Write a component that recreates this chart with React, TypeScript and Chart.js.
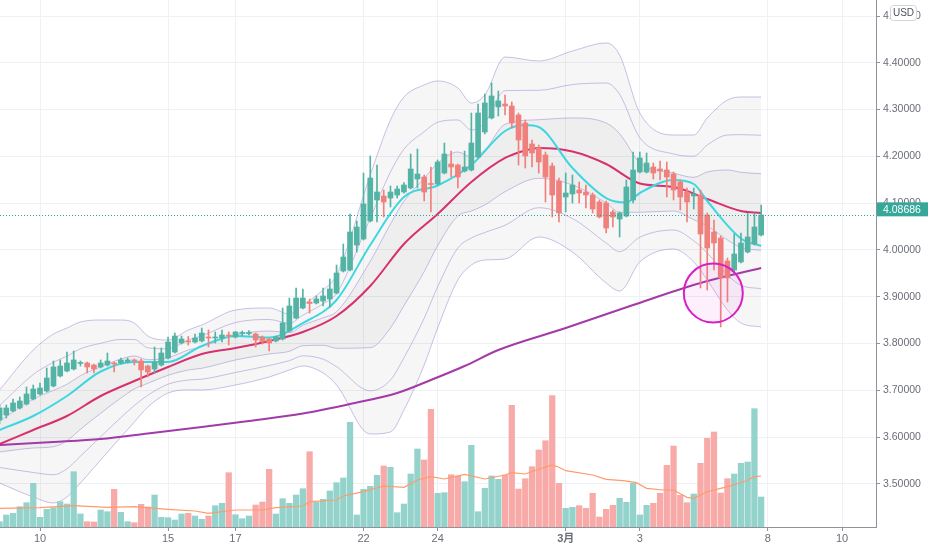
import React, { useEffect, useRef } from "react";
import { Chart, registerables } from "chart.js";

Chart.register(...registerables);

const FONT = "'Liberation Sans', 'Noto Sans CJK JP', sans-serif";

// ---- axes ----
const tickIdx = [6, 25, 35, 54, 65, 84, 95, 114, 125];
const tickLabels = ["10", "15", "17", "22", "24", "3月", "3", "8", "10"];
const priceTicks = [3.5, 3.6, 3.7, 3.8, 3.9, 4.0, 4.1, 4.2, 4.3, 4.4, 4.5];
const priceMin = 3.4081;
const priceMax = 4.5342;
const idxMin = 0.065;
const idxMax = 130.04;
const lastPrice = 4.08686;
const circleIdx = 105.9;
const circlePrice = 3.908;

// ---- candles ----
const openP = [
  3.6367, 3.6474, 3.656, 3.6624, 3.6709, 3.6816, 3.6923, 3.6987, 3.7094, 3.7308,
  3.7415, 3.7457, 3.7575, 3.7585, 3.7543, 3.75, 3.7543, 3.7585, 3.7585, 3.7607,
  3.765, 3.7628, 3.7521, 3.7457, 3.7543, 3.7692, 3.782, 3.8013, 3.8056, 3.8034,
  3.8056, 3.8141, 3.812, 3.812, 3.8184, 3.8141, 3.8216, 3.8216, 3.8205, 3.813,
  3.8098, 3.8056, 3.8098, 3.8269, 3.8547, 3.8761, 3.8889, 3.8867, 3.891, 3.8953,
  3.9081, 3.9551, 3.9573, 4.0107, 4.0235, 4.062, 4.1068, 4.1154, 4.1111, 4.1175,
  4.1239, 4.1325, 4.1517, 4.156, 4.1421, 4.141, 4.1645, 4.1838, 4.1816, 4.1688,
  4.1709, 4.1987, 4.2521, 4.2821, 4.3056, 4.312, 4.3077, 4.2885, 4.2714, 4.2265,
  4.218, 4.203, 4.1795, 4.1474, 4.1133, 4.1197, 4.1282, 4.1239, 4.1175, 4.1026,
  4.1004, 4.0812, 4.0662, 4.0726, 4.1068, 4.1667, 4.1667, 4.1774, 4.1731, 4.1709,
  4.1624, 4.1453, 4.1239, 4.1154, 4.1175, 4.0748, 4.0385, 4.0256, 3.9765, 3.9573,
  3.9744, 3.9957, 4.0128, 4.0321,
];
const highP = [
  3.6688, 3.6688, 3.6816, 3.6859, 3.7073, 3.7115, 3.7158, 3.7479, 3.7628, 3.765,
  3.782, 3.7842, 3.7628, 3.7607, 3.7564, 3.765, 3.7799, 3.7607, 3.7692, 3.7692,
  3.7671, 3.7671, 3.7543, 3.7927, 3.7906, 3.8141, 3.8226, 3.8162, 3.8152, 3.8205,
  3.8333, 3.8291, 3.8248, 3.8291, 3.8248, 3.8258, 3.8269, 3.828, 3.8226, 3.8162,
  3.812, 3.8162, 3.8761, 3.8974, 3.9188, 3.9167, 3.8953, 3.9017, 3.9188, 3.938,
  3.9679, 4.0128, 4.0769, 4.062, 4.1645, 4.2009, 4.1816, 4.1282, 4.1368, 4.1368,
  4.1438, 4.2051, 4.2158, 4.1603, 4.1774, 4.1923, 4.2286, 4.2115, 4.1838, 4.2115,
  4.2927, 4.312, 4.3333, 4.3568, 4.3397, 4.3312, 4.3162, 4.2927, 4.2778, 4.235,
  4.2244, 4.2094, 4.1859, 4.1538, 4.1645, 4.1603, 4.1453, 4.1389, 4.1218, 4.1068,
  4.1047, 4.0855, 4.0812, 4.1496, 4.2094, 4.2094, 4.2073, 4.1859, 4.1902, 4.188,
  4.1667, 4.1496, 4.1325, 4.1325, 4.1282, 4.0791, 4.0641, 4.0299, 3.9829, 4.0342,
  4.0363, 4.0791, 4.0791, 4.0962,
];
const lowP = [
  3.6282, 3.641, 3.6538, 3.6602, 3.6688, 3.6795, 3.6902, 3.6966, 3.7073, 3.7286,
  3.7393, 3.7436, 3.7521, 3.7372, 3.7372, 3.7479, 3.7521, 3.7393, 3.7564, 3.7585,
  3.7543, 3.7073, 3.7286, 3.7372, 3.7521, 3.7671, 3.7799, 3.7991, 3.797, 3.8013,
  3.8034, 3.7927, 3.8013, 3.8034, 3.797, 3.812, 3.8162, 3.8184, 3.7927, 3.7991,
  3.7842, 3.8034, 3.8077, 3.8248, 3.8526, 3.8739, 3.8654, 3.8846, 3.8803, 3.8782,
  3.906, 3.953, 3.9551, 3.9957, 4.0214, 4.0598, 4.0598, 4.0705, 4.0919, 4.1111,
  4.1212, 4.1303, 4.1325, 4.1047, 4.0812, 4.1389, 4.1624, 4.156, 4.1325, 4.1667,
  4.1688, 4.1966, 4.2479, 4.2799, 4.2863, 4.2885, 4.2607, 4.1816, 4.1752, 4.1774,
  4.1645, 4.1026, 4.0705, 4.0598, 4.0812, 4.1004, 4.1004, 4.0897, 4.0791, 4.0684,
  4.0363, 4.0491, 4.0278, 4.0705, 4.1004, 4.1645, 4.1645, 4.1517, 4.1496, 4.1133,
  4.1068, 4.0855, 4.0598, 4.0876, 3.9188, 3.9145, 3.9573, 3.8355, 3.8889, 3.953,
  3.9722, 3.9936, 4.0107, 4.0299,
];
const closeP = [
  3.6624, 3.6624, 3.6731, 3.6773, 3.6923, 3.703, 3.7051, 3.7265, 3.75, 3.7521,
  3.7585, 3.765, 3.7585, 3.75, 3.7457, 3.7585, 3.7628, 3.7564, 3.765, 3.765,
  3.7628, 3.7436, 3.7393, 3.7607, 3.7799, 3.8034, 3.8162, 3.8098, 3.8034, 3.812,
  3.8226, 3.812, 3.813, 3.8184, 3.8162, 3.8248, 3.8226, 3.823, 3.8077, 3.8045,
  3.8013, 3.8141, 3.844, 3.8803, 3.8974, 3.8974, 3.8857, 3.8953, 3.9017, 3.9167,
  3.9509, 3.985, 4.0385, 4.0491, 4.0983, 4.1538, 4.1239, 4.1026, 4.1239, 4.1303,
  4.1389, 4.1731, 4.1624, 4.1239, 4.14, 4.188, 4.2051, 4.1774, 4.156, 4.1774,
  4.2286, 4.2927, 4.3141, 4.3291, 4.3184, 4.3077, 4.2714, 4.235, 4.2009, 4.2073,
  4.188, 4.156, 4.1175, 4.0791, 4.1218, 4.1389, 4.1218, 4.1175, 4.0876, 4.0705,
  4.047, 4.0705, 4.0791, 4.1346, 4.1709, 4.1966, 4.1859, 4.1645, 4.1688, 4.156,
  4.1282, 4.1133, 4.1026, 4.1197, 4.0342, 4.0043, 4.015, 3.9402, 3.9402, 3.9915,
  4.015, 4.0278, 4.0491, 4.0748,
];

// ---- volume ----
const volume = [
  53, 120, 137, 203, 243, 437, 97, 177, 193, 253,
  230, 553, 130, 53, 50, 170, 153, 377, 147, 53,
  43, 227, 200, 320, 97, 93, 70, 130, 137, 110,
  77, 110, 213, 237, 543, 123, 83, 110, 220, 250,
  577, 130, 283, 237, 320, 383, 753, 250, 277, 360,
  443, 490, 1047, 120, 377, 407, 517, 610, 597, 143,
  230, 530, 780, 670, 1177, 337, 343, 523, 510, 453,
  817, 153, 387, 510, 477, 520, 1217, 380, 483, 603,
  770, 863, 1313, 437, 187, 197, 213, 187, 337, 100,
  177, 217, 287, 247, 437, 120, 217, 237, 337, 617,
  810, 317, 243, 330, 637, 887, 950, 340, 483, 530,
  637, 650, 1183, 300,
];
const volMax = 5270;
const volMaIdx = [0, 6, 11, 16, 20, 25, 29, 31, 35, 39, 41, 45, 46, 50, 51, 54, 57, 60, 62, 64, 66, 69, 72, 75, 76, 78, 80, 82, 83, 84, 88, 90, 92.5, 94.5, 96, 98.5, 100, 102, 103, 105, 107, 108.4, 110.8, 112, 113];
const volMaVal = [187, 193, 213, 197, 203, 177, 160, 137, 170, 170, 193, 210, 253, 270, 310, 353, 410, 397, 470, 503, 480, 527, 480, 520, 543, 530, 577, 620, 597, 563, 520, 477, 463, 443, 387, 370, 370, 297, 287, 353, 387, 410, 463, 503, 510];

// ---- moving averages ----
const fastIdx = [0, 5, 10, 15, 20, 25, 30, 35, 40, 45, 50, 55, 60, 65, 70, 75, 78, 80, 85, 90, 93, 95, 100, 103, 105, 110, 113];
const fastMa = [3.6154, 3.6453, 3.688, 3.7404, 3.7607, 3.7607, 3.7949, 3.8162, 3.813, 3.844, 3.8932, 4.0107, 4.1132, 4.1378, 4.1816, 4.2543, 4.2671, 4.2628, 4.1752, 4.1111, 4.1015, 4.1218, 4.1496, 4.141, 4.1047, 4.0246, 4.0085];
const midIdx = [0, 5, 10, 15, 20, 25, 30, 35, 40, 45, 50, 55, 60, 65, 70, 75, 78, 80, 85, 90, 95, 100, 105, 110, 113];
const midMa = [3.5855, 3.6154, 3.6453, 3.688, 3.7201, 3.75, 3.7778, 3.7906, 3.8056, 3.8248, 3.859, 3.9231, 4.0128, 4.0769, 4.1453, 4.1966, 4.2126, 4.2179, 4.2105, 4.1838, 4.1421, 4.1346, 4.109, 4.0833, 4.0791];
const slowIdx = [0, 8, 15, 22, 30, 37, 45, 52, 59, 64, 69, 74, 84, 94, 104, 113];
const slowMa = [3.5833, 3.5897, 3.5962, 3.6079, 3.6218, 3.6346, 3.6506, 3.6709, 3.6944, 3.7222, 3.7521, 3.7863, 3.8333, 3.8825, 3.9295, 3.9615];

// ---- bands ----
const bandIdx = [0, 5, 8, 10, 12, 15, 18, 20, 22, 25, 28, 30, 35, 40, 43, 45, 48, 50, 55, 58, 60, 63, 65, 68, 70, 72, 75, 80, 85, 90, 92, 95, 100, 103, 105, 108, 110, 113];
const bandU3 = [3.7009, 3.7863, 3.8205, 3.8333, 3.8462, 3.8504, 3.8504, 3.844, 3.8162, 3.8077, 3.8291, 3.8397, 3.8718, 3.8761, 3.8632, 3.8825, 3.9145, 3.9466, 4.1603, 4.2778, 4.3269, 4.3526, 4.3611, 4.3462, 4.3141, 4.3312, 4.4124, 4.4038, 4.4252, 4.4423, 4.4167, 4.2927, 4.2457, 4.2457, 4.2821, 4.3205, 4.3269, 4.3269];
const bandU2 = [3.6677, 3.734, 3.7603, 3.7731, 3.7889, 3.8006, 3.8088, 3.8088, 3.791, 3.7889, 3.8077, 3.8167, 3.8451, 3.8515, 3.8434, 3.8607, 3.885, 3.9075, 4.0679, 4.1667, 4.2154, 4.2528, 4.2731, 4.2778, 4.2564, 4.2724, 4.3404, 4.3412, 4.3536, 4.3568, 4.3327, 4.2397, 4.2051, 4.2004, 4.2244, 4.2457, 4.2464, 4.2451];
const bandU1 = [3.6346, 3.6816, 3.7002, 3.713, 3.7314, 3.7506, 3.7671, 3.7735, 3.7656, 3.7699, 3.7863, 3.7934, 3.8184, 3.8269, 3.8233, 3.8391, 3.8553, 3.8682, 3.9759, 4.0556, 4.1041, 4.1532, 4.1853, 4.2094, 4.1987, 4.2137, 4.2686, 4.2784, 4.2821, 4.2714, 4.2485, 4.1865, 4.1645, 4.1553, 4.1667, 4.1709, 4.166, 4.163];
const bandL1 = [3.5684, 3.5769, 3.5797, 3.5925, 3.6169, 3.6511, 3.6838, 3.703, 3.7152, 3.7323, 3.7436, 3.7472, 3.765, 3.7778, 3.7835, 3.7955, 3.7964, 3.79, 3.7912, 3.8333, 3.881, 3.9536, 4.0092, 4.0726, 4.0833, 4.0962, 4.1246, 4.1532, 4.1389, 4.1004, 4.0806, 4.0806, 4.0833, 4.0647, 4.0513, 4.0214, 4.0049, 3.9994];
const bandL2 = [3.5353, 3.5246, 3.5197, 3.5325, 3.5594, 3.6011, 3.6421, 3.6677, 3.6897, 3.7132, 3.7222, 3.7239, 3.7382, 3.7532, 3.7635, 3.7739, 3.7667, 3.7506, 3.6991, 3.7222, 3.7697, 3.8541, 3.9214, 4.0043, 4.0256, 4.0374, 4.0528, 4.0904, 4.0673, 4.015, 3.9964, 4.0274, 4.0427, 4.0197, 3.9936, 3.9466, 3.9246, 3.9173];
const bandL3 = [3.5021, 3.4722, 3.4594, 3.4722, 3.5021, 3.5513, 3.6004, 3.6325, 3.6645, 3.6944, 3.7009, 3.7009, 3.7115, 3.7286, 3.7436, 3.7521, 3.7372, 3.7115, 3.6068, 3.6111, 3.6581, 3.7543, 3.8333, 3.9359, 3.9679, 3.9786, 3.9808, 4.0278, 3.9957, 3.9295, 3.9124, 3.9744, 4.0021, 3.9744, 3.9359, 3.8718, 3.844, 3.8355];

// ---- styles ----
const UP = "#53b3a5";
const DOWN = "#f0807c";
const VOL_UP = "#93d3cc";
const VOL_DOWN = "#f7aaa7";
const BAND = "rgba(160, 140, 210, 0.55)";
const GRID = "#eef1f5";
const AXIS = "#8f929b";
const TEXT = "#6b6e78";

const pts = (xs: number[], ys: number[]) => xs.map((x, k) => ({ x, y: ys[k] }));

const overlayPlugin = {
  id: "overlay",
  afterDatasetsDraw(chart: any) {
    const { ctx, chartArea, scales } = chart;
    const xs = scales.x;
    const ys = scales.y;
    ctx.save();
    ctx.beginPath();
    ctx.rect(chartArea.left, chartArea.top, chartArea.right - chartArea.left, chartArea.bottom - chartArea.top);
    ctx.clip();
    const yl = Math.round(ys.getPixelForValue(closeP[closeP.length - 1])) + 0.5;
    ctx.strokeStyle = "#26a69a";
    ctx.lineWidth = 1;
    ctx.setLineDash([1, 2]);
    ctx.beginPath();
    ctx.moveTo(chartArea.left, yl);
    ctx.lineTo(chartArea.right, yl);
    ctx.stroke();
    ctx.setLineDash([]);
    const cx = xs.getPixelForValue(circleIdx);
    const cy = ys.getPixelForValue(circlePrice);
    ctx.beginPath();
    ctx.arc(cx, cy, 29.5, 0, Math.PI * 2);
    ctx.fillStyle = "rgba(230, 70, 220, 0.08)";
    ctx.fill();
    ctx.strokeStyle = "#d81fc4";
    ctx.lineWidth = 2;
    ctx.stroke();
    ctx.restore();
  },
  afterDraw(chart: any) {
    const { ctx, chartArea, scales } = chart;
    const ys = scales.y;
    ctx.save();
    const yp = ys.getPixelForValue(lastPrice);
    ctx.fillStyle = "#35a89a";
    ctx.fillRect(chartArea.right + 1, yp - 7, 51, 14);
    ctx.fillStyle = "#ffffff";
    ctx.font = `10.5px ${FONT}`;
    ctx.textBaseline = "middle";
    ctx.textAlign = "left";
    ctx.fillText(lastPrice.toFixed(5), chartArea.right + 7, yp + 0.5);
    // USD badge
    const bx = chartArea.right + 14.5;
    const by = 5.5;
    const bw = 26;
    const bh = 15;
    const r = 3;
    ctx.beginPath();
    ctx.moveTo(bx + r, by);
    ctx.lineTo(bx + bw - r, by);
    ctx.quadraticCurveTo(bx + bw, by, bx + bw, by + r);
    ctx.lineTo(bx + bw, by + bh - r);
    ctx.quadraticCurveTo(bx + bw, by + bh, bx + bw - r, by + bh);
    ctx.lineTo(bx + r, by + bh);
    ctx.quadraticCurveTo(bx, by + bh, bx, by + bh - r);
    ctx.lineTo(bx, by + r);
    ctx.quadraticCurveTo(bx, by, bx + r, by);
    ctx.closePath();
    ctx.fillStyle = "#ffffff";
    ctx.fill();
    ctx.strokeStyle = "#d1d4dc";
    ctx.lineWidth = 1;
    ctx.stroke();
    ctx.fillStyle = "#50535e";
    ctx.font = `10px ${FONT}`;
    ctx.textAlign = "center";
    ctx.fillText("USD", bx + bw / 2, by + bh / 2 + 0.5);
    ctx.restore();
  },
};

export default function App() {
  const ref = useRef<HTMLCanvasElement | null>(null);

  useEffect(() => {
    const canvas = ref.current;
    if (!canvas) return;
    const up = closeP.map((c, i) => c >= openP[i]);

    const bandLine = (vals: number[], fill: any) => ({
      type: "line" as const,
      data: pts(bandIdx, vals),
      borderColor: BAND,
      borderWidth: 1,
      pointRadius: 0,
      cubicInterpolationMode: "monotone" as const,
      fill,
      yAxisID: "y",
      order: 8,
    });

    const datasets: any[] = [
      bandLine(bandL3, false), // 0
      bandLine(bandL2, false), // 1
      bandLine(bandL1, false), // 2
      bandLine(bandU1, { target: 2, above: "rgba(120,120,120,0.065)", below: "rgba(120,120,120,0.065)" }), // 3
      bandLine(bandU2, false), // 4
      bandLine(bandU3, { target: 0, above: "rgba(120,120,120,0.065)", below: "rgba(120,120,120,0.065)" }), // 5
      {
        type: "line",
        data: pts(slowIdx, slowMa),
        borderColor: "#a23aa8",
        borderWidth: 2,
        pointRadius: 0,
        cubicInterpolationMode: "monotone",
        fill: false,
        yAxisID: "y",
        order: 4,
      },
      {
        type: "line",
        data: pts(midIdx, midMa),
        borderColor: "#d8306e",
        borderWidth: 2,
        pointRadius: 0,
        cubicInterpolationMode: "monotone",
        fill: false,
        yAxisID: "y",
        order: 3,
      },
      {
        type: "line",
        data: pts(fastIdx, fastMa),
        borderColor: "#3fd6e2",
        borderWidth: 2,
        pointRadius: 0,
        cubicInterpolationMode: "monotone",
        fill: false,
        yAxisID: "y",
        order: 2,
      },
      {
        type: "line",
        data: pts(volMaIdx, volMaVal),
        borderColor: "#ff9a6c",
        borderWidth: 1.2,
        pointRadius: 0,
        tension: 0,
        fill: false,
        yAxisID: "yv",
        order: 5,
      },
      {
        type: "bar",
        data: volume.map((v, i) => ({ x: i, y: v })),
        backgroundColor: up.map((u) => (u ? VOL_UP : VOL_DOWN)),
        barThickness: 5.6,
        grouped: false,
        yAxisID: "yv",
        order: 6,
      },
      {
        type: "bar",
        data: lowP.map((l, i) => ({ x: i, y: [l, highP[i]] })),
        backgroundColor: up.map((u) => (u ? UP : DOWN)),
        barThickness: 1,
        grouped: false,
        yAxisID: "y",
        order: 1,
      },
      {
        type: "bar",
        data: openP.map((o, i) => ({ x: i, y: [o, closeP[i]] })),
        backgroundColor: up.map((u) => (u ? UP : DOWN)),
        barThickness: 5,
        minBarLength: 1,
        grouped: false,
        yAxisID: "y",
        order: 0,
      },
    ];

    const chart = new Chart(canvas, {
      type: "line",
      data: { datasets },
      plugins: [overlayPlugin],
      options: {
        responsive: false,
        animation: false,
        events: [],
        layout: { padding: 0 },
        font: { family: FONT },
        plugins: {
          legend: { display: false },
          tooltip: { enabled: false },
        },
        scales: {
          x: {
            type: "linear",
            min: idxMin,
            max: idxMax,
            offset: false,
            afterBuildTicks: (ax: any) => {
              ax.ticks = tickIdx.map((v) => ({ value: v }));
            },
            afterFit: (ax: any) => {
              ax.height = 23;
              ax.paddingLeft = 0;
              ax.paddingRight = 0;
            },
            ticks: {
              autoSkip: false,
              maxRotation: 0,
              padding: 1,
              color: TEXT,
              font: (c: any) => ({
                family: FONT,
                size: 11,
                weight: c.tick && c.tick.label === "3月" ? "bold" : "normal",
              }),
              callback: (v: any) => {
                const k = tickIdx.indexOf(Number(v));
                return k >= 0 ? tickLabels[k] : "";
              },
            },
            grid: { color: GRID, tickColor: AXIS, tickLength: 4, offset: false },
            border: { display: true, color: AXIS, width: 1 },
          },
          y: {
            type: "linear",
            position: "right",
            min: priceMin,
            max: priceMax,
            afterBuildTicks: (ax: any) => {
              ax.ticks = priceTicks.map((v) => ({ value: v }));
            },
            afterFit: (ax: any) => {
              ax.width = 56;
              ax.paddingTop = 0;
              ax.paddingBottom = 0;
            },
            ticks: {
              padding: 3,
              color: TEXT,
              font: { family: FONT, size: 10.5 },
              callback: (v: any) => Number(v).toFixed(5),
            },
            grid: { color: GRID, tickColor: AXIS, tickLength: 4 },
            border: { display: true, color: AXIS, width: 1 },
          },
          yv: {
            type: "linear",
            display: false,
            min: 0,
            max: volMax,
          },
        },
      } as any,
    });
    return () => chart.destroy();
  }, []);

  return (
    <div style={{ position: "fixed", left: 0, top: 0, width: 932, height: 550, background: "#ffffff" }}>
      <canvas ref={ref} width={932} height={550} style={{ display: "block", width: 932, height: 550 }} />
    </div>
  );
}
